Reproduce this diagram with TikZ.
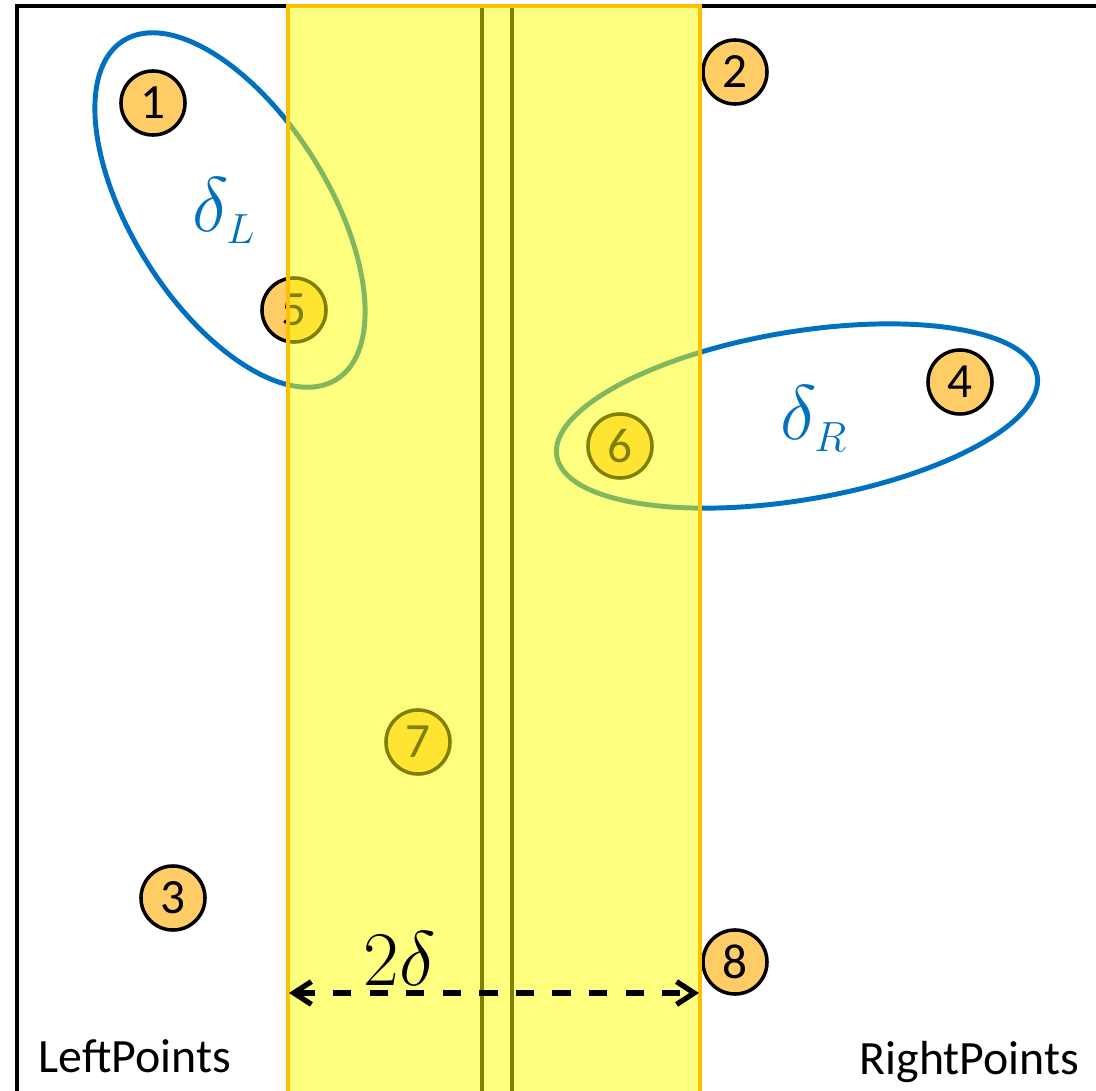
\RequirePackage{fix-cm}
\documentclass[tikz,border=0pt]{standalone}
\usepackage{fontspec}
\newfontfamily\calibri{Carlito}
\usetikzlibrary{arrows.meta}
\definecolor{lblue}{HTML}{0070C0}
\definecolor{ptorange}{HTML}{FFCC66}
\definecolor{bandgold}{HTML}{FFC000}
\definecolor{bandyellow}{HTML}{FFFF00}
\newcommand{\subsz}[1]{\mbox{\fontsize{12}{12}\selectfont$#1$}}

\begin{document}
\begin{tikzpicture}[x=0.01cm, y=-0.01cm,
  pnt/.style={circle, draw=black, line width=1pt, fill=ptorange, minimum size=0.64cm, inner sep=0pt,
    font=\calibri\fontsize{14}{16}\selectfont},
  lab/.style={inner sep=0pt, font=\calibri\fontsize{13.6}{15}\selectfont, anchor=base west},
  dlab/.style={inner sep=0pt, lblue, font=\fontsize{22}{26}\selectfont, anchor=base west}]

% Frame
\clip (0,0) rectangle (1096,1091);
\draw[line width=1.2pt] (17,6) rectangle (1100,1093);

% Split lines (under the strip)
\foreach \x in {482,512} {\draw[line width=1.2pt] (\x,6) -- (\x,1095);}

% Neighbourhoods
\draw[lblue, line width=1.4pt, rotate around={-57.8:(230,210)}] (230,210) ellipse [x radius=2cm, y radius=0.98cm];
\draw[lblue, line width=1.4pt, rotate around={9.5:(797,416)}] (797,416) ellipse [x radius=2.434cm, y radius=0.84cm];
\node[dlab] (dL) at (192,232) {$\delta_{\subsz{L}}$};
\node[dlab] (dR) at (780,440) {$\delta_{\subsz{R}}$};

% Points
\foreach \n/\x/\y in {1/153/103, 2/735/72, 3/173/898, 4/960/382, 5/294/310, 6/620/446, 7/418/742, 8/735/962}
  {\node[pnt] (p\n) at (\x,\y) {\n};}

% Strip of width 2 delta
\draw[bandgold, line width=1.1pt, fill=bandyellow, fill opacity=0.5] (288,6) rectangle (700,1096);
\coordinate (bandL) at (289,993);
\coordinate (bandR) at (699,993);
\draw[line width=1.5pt, dash pattern=on 5.2pt off 5.2pt,
  {Straight Barb[length=5pt,width=6.5pt]}-{Straight Barb[length=5pt,width=6.5pt]}] (bandL) -- (bandR);
\node[inner sep=0pt, anchor=base west, font=\fontsize{22}{26}\selectfont] (w) at (363,985) {$2\delta$};

\node[lab] (lp) at (38,1073) {LeftPoints};
\node[lab, anchor=base east] (rp) at (1080,1074) {RightPoints};
\end{tikzpicture}
\end{document}
